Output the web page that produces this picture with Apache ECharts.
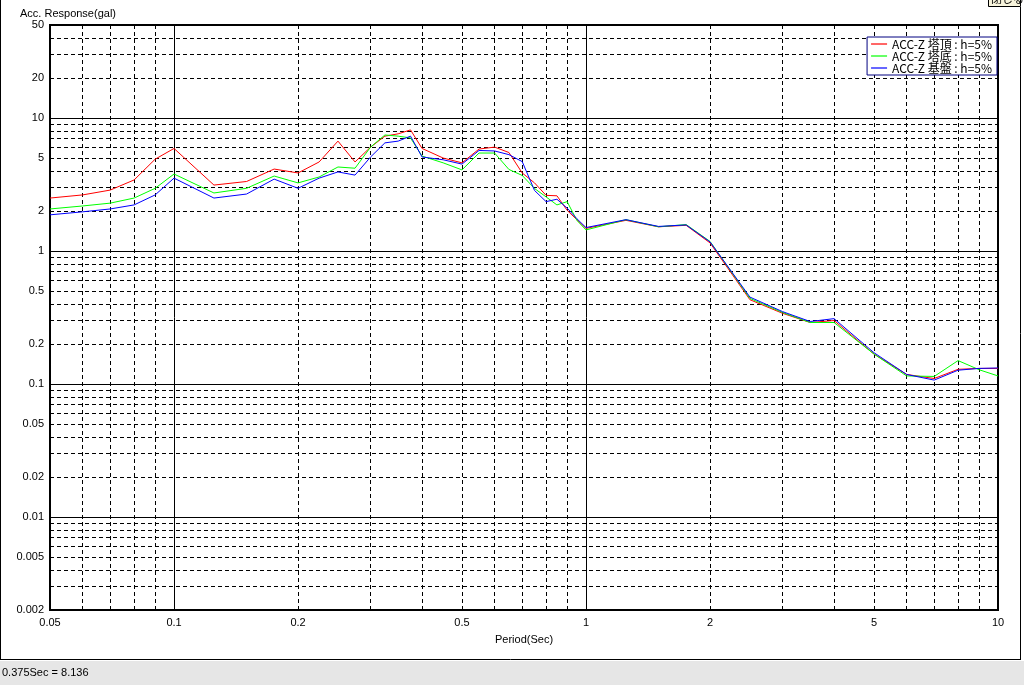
<!DOCTYPE html>
<html><head><meta charset="utf-8">
<script src="https://cdn.jsdelivr.net/npm/echarts@6/dist/echarts.min.js"></script>
<style>html,body{margin:0;padding:0;background:#fff;overflow:hidden}#c{width:1024px;height:685px}</style>
</head><body><div id="c"></div>
<script>
const periods = [0.05,0.06,0.07,0.08,0.09,0.1,0.125,0.15,0.175,0.2,0.225,0.25,0.275,0.3,0.325,0.35,0.375,0.4,0.45,0.5,0.55,0.6,0.65,0.7,0.75,0.8,0.85,0.9,0.95,1.0,1.25,1.5,1.75,2.0,2.5,3.0,3.5,4.0,5.0,6.0,7.0,8.0,9.0,10.0];
const topAcc = [2.5,2.64,2.87,3.42,4.9,5.9,3.13,3.33,4.13,3.86,4.67,6.7,4.67,6.04,7.3,7.6,8.136,5.9,5.0,4.6,5.84,6.04,5.5,3.86,3.25,2.62,2.6,2.02,1.72,1.48,1.7,1.52,1.56,1.15,0.43,0.34,0.29,0.30,0.168,0.118,0.110,0.129,0.131,0.131];
const bottomAcc = [2.07,2.18,2.29,2.5,2.96,3.79,2.73,2.96,3.66,3.25,3.6,4.28,4.19,6.04,7.45,7.3,7.08,5.17,4.6,4.07,5.45,5.45,4.1,3.7,2.95,2.55,2.22,2.35,1.7,1.44,1.72,1.52,1.58,1.18,0.44,0.345,0.29,0.29,0.168,0.115,0.114,0.150,0.128,0.115];
const groundAcc = [1.87,1.97,2.07,2.22,2.64,3.53,2.5,2.68,3.47,2.96,3.53,3.93,3.72,5.09,6.5,6.7,7.3,5.09,4.85,4.5,5.7,5.65,5.3,4.7,2.85,2.35,2.45,2.1,1.75,1.5,1.72,1.53,1.57,1.17,0.45,0.35,0.295,0.31,0.172,0.118,0.107,0.127,0.131,0.132];
const seriesNames = ['ACC-Z 塔頂 : h=5%','ACC-Z 塔底 : h=5%','ACC-Z 基盤 : h=5%'];
const seriesColors = ['#ff0000','#00ff00','#0000ff'];
const xLabelValues = [0.05,0.1,0.2,0.5,1,2,5,10];
const yLabelValues = [0.002,0.005,0.01,0.02,0.05,0.1,0.2,0.5,1,2,5,10,20,50];
const xMajorGrid = [0.1,1];
const xMinorGrid = [0.06,0.07,0.08,0.09,0.2,0.3,0.4,0.5,0.6,0.7,0.8,0.9,2,3,4,5,6,7,8,9];
const yMajorGrid = [0.01,0.1,1,10];
const yMinorGrid = [0.003,0.004,0.005,0.006,0.007,0.008,0.009,0.02,0.03,0.04,0.05,0.06,0.07,0.08,0.09,0.2,0.3,0.4,0.5,0.6,0.7,0.8,0.9,2,3,4,5,6,7,8,9,20,30,40];
const statusText = '0.375Sec = 8.136';

const FONT = 'Liberation Sans';
const fmt = v => String(Number(Number(v).toPrecision(3)));
const chart = echarts.init(document.getElementById('c'), null, {renderer:'canvas'});
const dash = {color:'#000', width:1, type:[4,3]};
const solid = {color:'#000', width:1, type:'solid'};
const xBase = {type:'log', logBase:10, min:0.05, max:10, gridIndex:0};
const yBase = {type:'log', logBase:10, min:0.002, max:50, gridIndex:0};
const sets = [topAcc, bottomAcc, groundAcc];
chart.setOption({
  animation:false,
  backgroundColor:'#fff',
  grid:{left:50, right:26, top:25, bottom:75, show:true, borderColor:'#000', borderWidth:2, backgroundColor:'#fff'},
  legend:{
    orient:'vertical', right:27, top:37, itemGap:0, itemWidth:16, itemHeight:1.2, icon:'rect',
    padding:[1,5,1,4], backgroundColor:'#fff', borderColor:'#000080', borderWidth:1, borderRadius:0,
    textStyle:{fontFamily:'Noto Sans CJK JP', fontSize:12, color:'#000', lineHeight:12},
    data:seriesNames
  },
  xAxis:[
    Object.assign({}, xBase, {
      axisLine:{show:false}, axisTick:{show:false, customValues:xMajorGrid},
      axisLabel:{customValues:xLabelValues, formatter:fmt, margin:7, fontFamily:FONT, fontSize:11, color:'#000'},
      splitLine:{show:true, lineStyle:solid},
      name:'Period(Sec)', nameLocation:'middle', nameGap:24,
      nameTextStyle:{fontFamily:FONT, fontSize:11, color:'#000'}
    }),
    Object.assign({}, xBase, {
      axisLine:{show:false}, axisTick:{show:false, customValues:xMinorGrid},
      axisLabel:{show:false}, splitLine:{show:true, lineStyle:dash}
    })
  ],
  yAxis:[
    Object.assign({}, yBase, {
      axisLine:{show:false}, axisTick:{show:false, customValues:yMajorGrid},
      axisLabel:{customValues:yLabelValues, formatter:fmt, margin:6, fontFamily:FONT, fontSize:11, color:'#000'},
      splitLine:{show:true, lineStyle:solid}
    }),
    Object.assign({}, yBase, {
      axisLine:{show:false}, axisTick:{show:false, customValues:yMinorGrid},
      axisLabel:{show:false}, splitLine:{show:true, lineStyle:dash}
    })
  ],
  series: seriesNames.map((n,k)=>({
    name:n, type:'line', xAxisIndex:0, yAxisIndex:0, showSymbol:false, symbol:'none',
    lineStyle:{color:seriesColors[k], width:1}, itemStyle:{color:seriesColors[k]},
    data: periods.map((p,i)=>[p, sets[k][i]]), z:3+k
  })),
  graphic:[
    {type:'text', left:20, top:8, style:{text:'Acc. Response(gal)', fontFamily:FONT, fontSize:11, fill:'#000'}},
    {type:'rect', shape:{x:0, y:661, width:1024, height:24}, style:{fill:'#e6e6e6'}},
    {type:'text', left:2, top:667, style:{text:statusText, fontFamily:FONT, fontSize:11, fill:'#000'}},
    {type:'line', shape:{x1:0.5, y1:0, x2:0.5, y2:660}, style:{stroke:'#000', lineWidth:1}},
    {type:'line', shape:{x1:0, y1:659.5, x2:1021, y2:659.5}, style:{stroke:'#000', lineWidth:1}},
    {type:'line', shape:{x1:1020.5, y1:7, x2:1020.5, y2:660}, style:{stroke:'#000', lineWidth:1}},
    {type:'rect', shape:{x:988.5, y:-8.5, width:32, height:15}, style:{fill:'#f8f4dc', stroke:'#000', lineWidth:1}},
    {type:'text', left:991, top:-7, style:{text:'閉じる', fontFamily:'Noto Sans CJK JP', fontSize:11, fill:'#000'}}
  ]
});
</script></body></html>
